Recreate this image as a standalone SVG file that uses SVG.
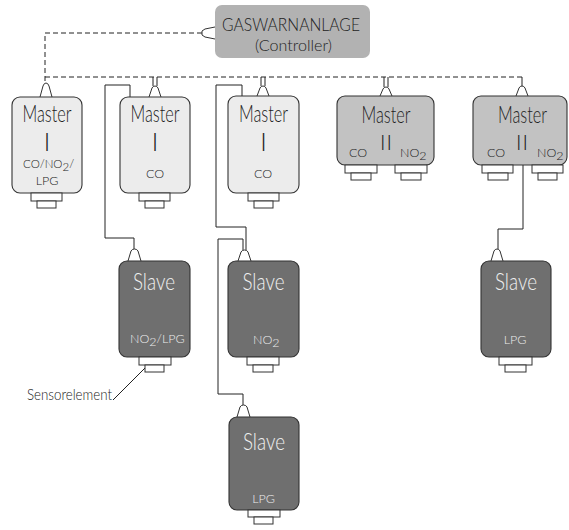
<svg xmlns="http://www.w3.org/2000/svg" width="569" height="530" viewBox="0 0 569 530">
<style>
text{font-family:Lato,"Liberation Sans",Arial,sans-serif;font-weight:300;}
.m1{fill:#ececec;stroke:#333;stroke-width:1.1}
.m2{fill:#c2c2c2;stroke:#333;stroke-width:1.1}
.sl{fill:#6f6f6f;stroke:#333;stroke-width:1.1}
.ctl{fill:#b2b2b2}
.cn{fill:#fff;stroke:#333;stroke-width:1}
.big{font-size:23px;fill:#222}
.bigw{font-size:23px;fill:#f0f0f0}
.sm{font-size:12.5px;fill:#222}
.smw{font-size:12.5px;fill:#ececec}
.num{font-size:25px;fill:#222;text-anchor:middle}
.wire{fill:none;stroke:#222;stroke-width:1}
.bus{fill:none;stroke:#222;stroke-width:1;stroke-dasharray:5,3}
</style>

<g id="connectors">
  <path class="bus" d="M202,33 H45 V83"/>
  <path class="bus" d="M45,77 H522"/>
  <path class="wire" d="M153,77 V86 M157,77 V86 M261,77 V86 M265,77 V86 M384,77 V87 M388,77 V87 M522,77 V86"/>
  <path class="wire" d="M130,97 V85 H105 V238 H134 V249"/>
  <path class="wire" d="M242,96 V85 H216 V227 H246 V250"/>
  <path class="wire" d="M243,250 V239 H218 V394 H243 V405"/>
  <path class="wire" d="M523,165 V229 H498 V249"/>
  <path class="wire" d="M113,400 L145,368"/>
</g>

<g id="controller">
  <rect class="ctl" x="215" y="5" width="155" height="53" rx="7"/>
  <path class="cn" d="M215,27 L205,29 L202,31 L202,35 L205,37 L215,39"/>
  <text class="big" x="222" y="30.5" style="font-size:18px" textLength="138" lengthAdjust="spacingAndGlyphs">GASWARNANLAGE</text>
  <text class="big" x="255" y="50.5" style="font-size:16.5px" textLength="77" lengthAdjust="spacingAndGlyphs">(Controller)</text>
</g>

<g id="master1">
  <path class="cn" d="M40,97 L43,86 Q44,83 46,83 Q48,83 49,86 L52,97"/>
  <rect class="m1" x="12" y="97" width="70" height="96" rx="8"/>
  <rect class="cn" x="31" y="193" width="31" height="8"/>
  <rect class="cn" x="37" y="201" width="19" height="7"/>
  <text class="big" x="22.5" y="122" textLength="49" lengthAdjust="spacingAndGlyphs">Master</text>
  <text class="num" x="47" y="151">I</text>
  <text class="sm" x="23" y="168" style="font-size:11.5px">CO/NO<tspan dy="3">2</tspan><tspan dy="-3">/</tspan></text>
  <text class="sm" x="47" y="185" text-anchor="middle">LPG</text>
</g>

<g id="master2">
  <path class="cn" d="M149,97 L152,88 Q153,86 155,86 Q157,86 158,88 L161,97"/>
  <rect class="m1" x="120" y="97" width="70" height="96" rx="8"/>
  <rect class="cn" x="139" y="193" width="31" height="8"/>
  <rect class="cn" x="145" y="201" width="19" height="7"/>
  <text class="big" x="130.5" y="122" textLength="49" lengthAdjust="spacingAndGlyphs">Master</text>
  <text class="num" x="155" y="151">I</text>
  <text class="sm" x="155" y="178" text-anchor="middle">CO</text>
</g>

<g id="master3">
  <path class="cn" d="M257,96 L260,88 Q261,86 263,86 Q265,86 266,88 L269,96"/>
  <rect class="m1" x="228" y="96" width="71" height="97" rx="8"/>
  <rect class="cn" x="248" y="193" width="31" height="8"/>
  <rect class="cn" x="254" y="201" width="19" height="7"/>
  <text class="big" x="239" y="122" textLength="49" lengthAdjust="spacingAndGlyphs">Master</text>
  <text class="num" x="263.5" y="151">I</text>
  <text class="sm" x="263" y="178" text-anchor="middle">CO</text>
</g>

<g id="master4">
  <path class="cn" d="M380,96 L383,89 Q384,87 386,87 Q388,87 389,89 L392,96"/>
  <rect class="m2" x="337" y="96" width="97" height="69" rx="8"/>
  <rect class="cn" x="345" y="165" width="32" height="8"/>
  <rect class="cn" x="351" y="173" width="20" height="7"/>
  <rect class="cn" x="395" y="165" width="32" height="8"/>
  <rect class="cn" x="401" y="173" width="20" height="7"/>
  <text class="big" x="361.5" y="123" textLength="49" lengthAdjust="spacingAndGlyphs">Master</text>
  <text class="num" x="386.5" y="150" style="font-size:21px;letter-spacing:1px">II</text>
  <text class="sm" x="358" y="157" text-anchor="middle">CO</text>
  <text class="sm" x="400" y="157">NO<tspan dy="3">2</tspan></text>
</g>

<g id="master5">
  <path class="cn" d="M516,96 L519,88 Q520,86 522,86 Q524,86 525,88 L528,96"/>
  <rect class="m2" x="473" y="96" width="94" height="69" rx="8"/>
  <rect class="cn" x="482" y="165" width="31" height="8"/>
  <rect class="cn" x="488" y="173" width="20" height="7"/>
  <rect class="cn" x="532" y="165" width="31" height="8"/>
  <rect class="cn" x="538" y="173" width="19" height="7"/>
  <text class="big" x="498" y="123" textLength="49" lengthAdjust="spacingAndGlyphs">Master</text>
  <text class="num" x="522.5" y="150" style="font-size:21px;letter-spacing:1px">II</text>
  <text class="sm" x="496" y="157" text-anchor="middle">CO</text>
  <text class="sm" x="537" y="157">NO<tspan dy="3">2</tspan></text>
</g>

<g id="slave1">
  <path class="cn" d="M128,261 L131,251 Q132,249 134.5,249 Q137,249 138,251 L141,261"/>
  <rect class="sl" x="119" y="261" width="71" height="96" rx="8"/>
  <rect class="cn" x="139" y="357" width="32" height="8"/>
  <rect class="cn" x="145" y="365" width="19" height="7"/>
  <text class="bigw" x="133" y="290" textLength="42" lengthAdjust="spacingAndGlyphs">Slave</text>
  <text class="smw" x="130" y="343">NO<tspan dy="3">2</tspan><tspan dy="-3">/LPG</tspan></text>
</g>

<g id="slave2">
  <path class="cn" d="M238,261 L241,252 Q242,250 244.5,250 Q247,250 248,252 L251,261"/>
  <rect class="sl" x="228" y="261" width="71" height="96" rx="8"/>
  <rect class="cn" x="247" y="357" width="32" height="8"/>
  <rect class="cn" x="253" y="365" width="20" height="7"/>
  <text class="bigw" x="242.5" y="290" textLength="42" lengthAdjust="spacingAndGlyphs">Slave</text>
  <text class="smw" x="253" y="344">NO<tspan dy="3">2</tspan></text>
</g>

<g id="slave3">
  <path class="cn" d="M491,261 L494,251 Q495,249 497,249 Q499,249 500,251 L503,261"/>
  <rect class="sl" x="481" y="261" width="70" height="96" rx="8"/>
  <rect class="cn" x="499" y="357" width="33" height="8"/>
  <rect class="cn" x="505" y="365" width="21" height="7"/>
  <text class="bigw" x="495" y="290" textLength="42" lengthAdjust="spacingAndGlyphs">Slave</text>
  <text class="smw" x="515" y="344" text-anchor="middle">LPG</text>
</g>

<g id="slave4">
  <path class="cn" d="M237,417 L240,407 Q241,405 243.5,405 Q246,405 247,407 L250,417"/>
  <rect class="sl" x="229" y="417" width="70" height="93" rx="8"/>
  <rect class="cn" x="248" y="510" width="32" height="7"/>
  <rect class="cn" x="254" y="517" width="19" height="7"/>
  <text class="bigw" x="243" y="450" textLength="42" lengthAdjust="spacingAndGlyphs">Slave</text>
  <text class="smw" x="263.5" y="503" text-anchor="middle">LPG</text>
</g>

<g id="label">
  <text class="sm" x="27" y="400" style="font-size:16px" textLength="85" lengthAdjust="spacingAndGlyphs">Sensorelement</text>
</g>
</svg>
